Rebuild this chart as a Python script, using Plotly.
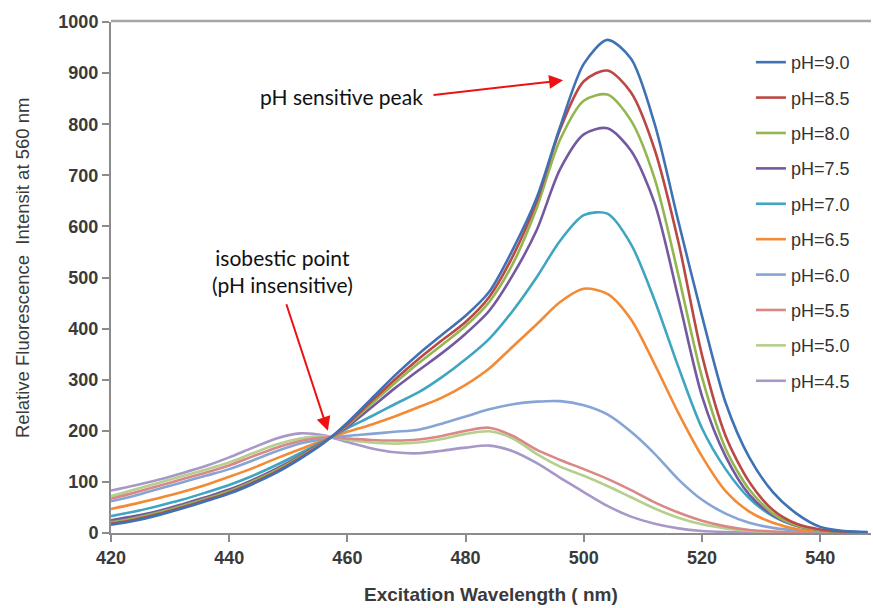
import plotly.graph_objects as go

wavelength = [420, 424, 428, 432, 436, 440, 444, 448, 452, 456, 460, 464, 468, 472, 476, 480, 484,
              488, 492, 496, 500, 504, 508, 512, 516, 520, 524, 528, 532, 536, 540, 544, 548]

ph_9_0 = [16, 24, 35, 48, 62, 77, 96, 118, 145, 176, 216, 262, 308, 350, 388, 425, 472,
          555, 655, 795, 918, 965, 928, 800, 610, 425, 255, 148, 80, 38, 12, 4, 2]
ph_8_5 = [18, 26, 37, 50, 64, 79, 98, 120, 147, 177, 213, 257, 300, 340, 377, 413, 462,
          542, 648, 790, 884, 905, 862, 750, 570, 348, 190, 100, 45, 18, 7, 3, 1]
ph_8_0 = [21, 29, 40, 53, 67, 82, 101, 123, 149, 178, 211, 252, 293, 332, 368, 405, 452,
          527, 635, 770, 846, 858, 807, 693, 505, 305, 165, 85, 38, 15, 6, 3, 1]
ph_7_5 = [25, 33, 43, 56, 70, 85, 104, 126, 151, 179, 208, 245, 283, 318, 352, 390, 435,
          505, 592, 712, 780, 792, 748, 645, 460, 268, 150, 75, 35, 14, 6, 3, 1]
ph_7_0 = [33, 42, 53, 65, 79, 94, 112, 133, 156, 180, 205, 228, 252, 275, 305, 340, 380,
          435, 500, 572, 622, 625, 565, 455, 325, 205, 125, 68, 33, 14, 6, 2, 1]
ph_6_5 = [47, 57, 68, 80, 94, 110, 127, 146, 164, 182, 198, 212, 228, 246, 265, 290, 322,
          365, 408, 452, 478, 468, 418, 330, 235, 150, 82, 42, 20, 8, 4, 2, 1]
ph_6_0 = [62, 73, 86, 99, 112, 125, 142, 160, 175, 184, 190, 194, 198, 202, 214, 228, 242,
          252, 257, 258, 250, 232, 198, 155, 105, 65, 38, 20, 10, 5, 3, 1, 0]
ph_5_5 = [67, 79, 92, 105, 118, 132, 150, 167, 180, 187, 185, 182, 181, 183, 190, 200, 206,
          190, 163, 143, 125, 106, 84, 60, 40, 24, 13, 6, 3, 1, 0, 0, 0]
ph_5_0 = [72, 85, 98, 111, 124, 138, 156, 173, 185, 189, 182, 177, 175, 177, 184, 194, 199,
          185, 155, 130, 112, 92, 70, 48, 30, 17, 9, 4, 2, 1, 0, 0, 0]
ph_4_5 = [83, 93, 104, 117, 131, 148, 167, 185, 195, 191, 178, 166, 158, 156, 161, 167, 171,
          160, 137, 108, 80, 53, 32, 18, 9, 4, 2, 1, 0, 0, 0, 0, 0]

series_names = ["pH=9.0", "pH=8.5", "pH=8.0", "pH=7.5", "pH=7.0",
                "pH=6.5", "pH=6.0", "pH=5.5", "pH=5.0", "pH=4.5"]
series_values = [ph_9_0, ph_8_5, ph_8_0, ph_7_5, ph_7_0, ph_6_5, ph_6_0, ph_5_5, ph_5_0, ph_4_5]
series_colors = ["#3F72B5", "#BA4845", "#93B651", "#7459A0", "#40A5C0",
                 "#F38A35", "#86A4D6", "#D98886", "#B5CF8C", "#A898C8"]

x_ticks = [420, 440, 460, 480, 500, 520, 540]
y_ticks = [0, 100, 200, 300, 400, 500, 600, 700, 800, 900, 1000]

fig = go.Figure()
# draw low-pH first so high-pH lines sit on top
for i in reversed(range(len(series_names))):
    fig.add_trace(go.Scatter(
        x=wavelength, y=series_values[i], name=series_names[i], mode="lines",
        line=dict(color=series_colors[i], width=2.6, shape="spline", smoothing=0.8),
        legendgroup=series_names[i], legendrank=i + 1,
    ))

tick_font = dict(family="Arial, Liberation Sans", size=18, color="#3a3a3a", weight="bold")

fig.update_layout(
    width=873, height=608,
    margin=dict(l=111, r=2, t=22, b=75),
    paper_bgcolor="white", plot_bgcolor="white",
    showlegend=True,
    legend=dict(
        x=0.842, xanchor="left", y=0.957, yanchor="top",
        font=dict(family="Arial, Liberation Sans", size=18, color="#333333"),
        itemwidth=30, tracegroupgap=9, traceorder="grouped",
        bgcolor="rgba(0,0,0,0)",
    ),
    xaxis=dict(
        range=[420, 548.6], tickvals=x_ticks, showgrid=False, zeroline=False,
        showline=True, linecolor="#8c8c8c", linewidth=2,
        ticks="outside", ticklen=7, tickcolor="#8c8c8c", tickwidth=1.5,
        tickfont=tick_font,
    ),
    yaxis=dict(
        range=[0, 1000], tickvals=y_ticks, showgrid=False, zeroline=False,
        showline=True, linecolor="#8c8c8c", linewidth=2,
        ticks="outside", ticklen=7, tickcolor="#8c8c8c", tickwidth=1.5,
        tickfont=tick_font,
    ),
    xaxis2=dict(range=[420, 548.6], overlaying="x", tickvals=x_ticks, showticklabels=False,
                ticks="inside", ticklen=7, tickcolor="#8c8c8c", tickwidth=1.5,
                showgrid=False, zeroline=False, showline=False),
    yaxis2=dict(range=[0, 1000], overlaying="y", tickvals=y_ticks, showticklabels=False,
                ticks="inside", ticklen=7, tickcolor="#8c8c8c", tickwidth=1.5,
                showgrid=False, zeroline=False, showline=False),
    shapes=[dict(type="line", xref="paper", yref="paper", x0=0, x1=1, y0=1.002, y1=1.002,
                 line=dict(color="#a6a6a6", width=2.5))],
)

# axis titles
fig.add_annotation(x=22, y=268, xref="paper", yref="paper", text="Relative Fluorescence  Intensit at 560 nm",
                   textangle=-90, showarrow=False, xanchor="center", yanchor="middle",
                   font=dict(family="Arial, Liberation Sans", size=18.5, color="#3a3a3a"))
fig.add_annotation(x=491, y=594, xref="paper", yref="paper", text="Excitation Wavelength ( nm)",
                   showarrow=False, xanchor="center", yanchor="middle",
                   font=dict(family="Arial, Liberation Sans", size=19, color="#3a3a3a", weight="bold"))
# convert pixel positions of the titles to paper coordinates
for a in fig.layout.annotations:
    a.x = (a.x - 111) / 760
    a.y = (533 - a.y) / 511

ann_font = dict(family="Lato, Open Sans", size=21, color="#111111")
fig.add_annotation(x=0.303, y=0.855, xref="paper", yref="paper", text="pH sensitive peak",
                   showarrow=False, font=ann_font, xanchor="center", yanchor="middle")
fig.add_annotation(x=496.5, y=886, xref="x", yref="y", text="", showarrow=True,
                   ax=-131, ay=15, arrowhead=2, arrowsize=1.4, arrowwidth=2, arrowcolor="#ee1111")
fig.add_annotation(x=0.226, y=0.512, xref="paper", yref="paper",
                   text="isobestic point<br>(pH insensitive)",
                   showarrow=False, font=ann_font, xanchor="center", yanchor="middle")
fig.add_annotation(x=456.7, y=200, xref="x", yref="y", text="", showarrow=True,
                   ax=-42, ay=-128, arrowhead=2, arrowsize=1.4, arrowwidth=2, arrowcolor="#ee1111")

fig.write_html("out.html")
